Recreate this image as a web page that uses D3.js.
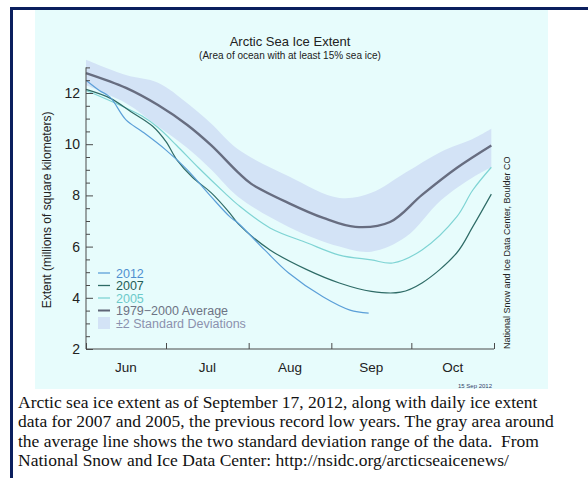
<!DOCTYPE html>
<html>
<meta charset="utf-8">
<head>
  <script src="https://cdn.jsdelivr.net/npm/d3@7"></script>
  <style>
    body { margin:0; background:#fff; }
  </style>
</head>
<body>
<script>
    // values (millions of km2), month-day in 2012
    var bandDates = ["06-01","06-16","06-28","07-09","07-18","07-28","08-16","09-04","09-16","09-29","10-12","10-24","10-31"]
    var bandUpper = [13.3, 12.7, 12.4, 11.6, 10.8, 9.8, 8.75, 7.9, 8.1, 8.9, 9.7, 10.2, 10.6]
    var bandLower = [12.3, 11.6, 10.7, 9.85, 9.0, 7.95, 6.77, 6.0, 5.8, 6.38, 7.8, 8.7, 9.1]

    var avg = [["06-01",12.78],["06-16",12.2],["06-28",11.53],["07-09",10.75],["07-18",9.95],["07-28",8.9],
               ["08-02",8.45],["08-16",7.7],["08-29",7.12],["09-10",6.77],["09-23",6.96],["10-05",8.02],
               ["10-18",9.07],["10-31",9.95]]
    var ice2005 = [["06-01",12.1],["06-10",11.7],["06-22",11.1],["06-28",10.65],["07-05",9.95],["07-13",9.1],
                   ["07-23",8.1],["07-28",7.63],["08-09",6.73],["08-23",6.14],["09-04",5.67],["09-16",5.48],
                   ["09-24",5.36],["10-05",5.87],["10-18",7.16],["10-24",8.2],["10-31",9.1]]
    var ice2007 = [["06-01",12.14],["06-10",11.8],["06-18",11.26],["06-26",10.7],["07-01",10.1],["07-05",9.4],
                   ["07-11",8.7],["07-18",8.1],["07-25",7.3],["07-28",6.9],["08-09",5.87],["08-23",5.09],
                   ["09-04",4.58],["09-16",4.25],["09-27",4.22],["10-05",4.58],["10-18",5.75],["10-24",6.77],
                   ["10-31",8.05]]
    var ice2012 = [["06-01",12.5],["06-06",12.1],["06-10",11.84],["06-16",10.95],["06-22",10.5],["07-01",9.77],
                   ["07-09",9.0],["07-18",7.94],["07-25",7.16],["07-28",6.92],["08-07",5.87],["08-16",4.97],
                   ["08-29",4.03],["09-08",3.52],["09-15",3.4]]

    var months = ["Jun","Jul","Aug","Sep","Oct"]
    var yMajor = [2,4,6,8,10,12]

    var legendItems = [
	{label:"2012", color:"#5b9fd8", text:"#4f8fd0"},
	{label:"2007", color:"#2e6b66", text:"#245c57"},
	{label:"2005", color:"#7fd4d4", text:"#6ccaca"},
	{label:"1979\u22122000 Average", color:"#5f6577", text:"#6d7384"},
	{label:"\u00b12 Standard Deviations", color:"#d3e3f6", text:"#8b91ae", box:true}
    ]

    var caption = [
	"Arctic sea ice extent as of September 17, 2012, along with daily ice extent",
	"data for 2007 and 2005, the previous record low years. The gray area around",
	"the average line shows the two standard deviation range of the data.  From",
	"National Snow and Ice Data Center: http://nsidc.org/arcticseaicenews/"
    ]

    var parse = d3.timeParse("%Y-%m-%d")
    function dt(md) { return parse("2012-"+md) }
    var sans = "Liberation Sans, Arial, sans-serif"

    var svg = d3.select("body").append("svg").attr("width",588).attr("height",478)

    // frame + cyan panel
    svg.append("rect").attr("x",35).attr("y",9).attr("width",513).attr("height",380).attr("fill","#e7fcfc")
    svg.append("rect").attr("x",10).attr("y",7).attr("width",578).attr("height",3).attr("fill","#0b1f5e")
    svg.append("rect").attr("x",10).attr("y",7).attr("width",3).attr("height",471).attr("fill","#0b1f5e")

    var x = d3.scaleTime().domain([dt("06-01"), dt("11-01")]).range([86,494])
    var y = d3.scaleLinear().domain([2,13]).range([349,67.4])

    // std dev band
    var band = bandDates.map((d,i)=>({date:dt(d), hi:bandUpper[i], lo:bandLower[i]}))
    svg.append("path")
	.datum(band)
	.attr("fill","#d3e3f6")
	.attr("d", d3.area().curve(d3.curveCatmullRom)
	      .x(d=>x(d.date)).y0(d=>y(d.lo)).y1(d=>y(d.hi)))

    var line = d3.line().curve(d3.curveCatmullRom).x(d=>x(dt(d[0]))).y(d=>y(d[1]))

    svg.append("path").datum(avg).attr("fill","none").attr("stroke","#676d80").attr("stroke-width",2.4).attr("d",line)
    svg.append("path").datum(ice2005).attr("fill","none").attr("stroke","#7fd4d4").attr("stroke-width",1.2).attr("d",line)
    svg.append("path").datum(ice2007).attr("fill","none").attr("stroke","#2e6b66").attr("stroke-width",1.2).attr("d",line)
    svg.append("path").datum(ice2012).attr("fill","none").attr("stroke","#5b9fd8").attr("stroke-width",1.2).attr("d",line)

    // axes
    var axisColor = "#4a4a4a"
    var yMinor = d3.range(2,13.01,0.5).filter(v=>yMajor.indexOf(v)<0)
    var gy = svg.append("g").attr("transform","translate(86,0)")
    gy.call(d3.axisLeft(y).tickValues(yMajor).tickSize(-7).tickPadding(6).tickFormat(d3.format("d")))
    gy.append("g").call(d3.axisLeft(y).tickValues(yMinor).tickSize(-4).tickFormat(""))
    gy.selectAll(".domain").remove()
    gy.append("line").attr("y1",y(13)).attr("y2",y(2)).attr("stroke",axisColor)

    var monthStarts = d3.timeMonth.range(dt("06-01"), dt("11-02"))
    var gx = svg.append("g").attr("transform","translate(0,349)")
    gx.call(d3.axisBottom(x).tickValues(monthStarts).tickSize(-6).tickFormat(""))
    gx.select(".domain").remove()
    gx.append("line").attr("x1",86).attr("x2",494).attr("stroke",axisColor)

    svg.selectAll(".tick line").attr("stroke",axisColor)
    svg.selectAll(".tick text").attr("fill","#222").attr("font-family",sans).attr("font-size",14)

    svg.append("g").selectAll("text")
	.data(months)
	.join("text")
	.attr("x",(d,i)=>(x(monthStarts[i])+x(monthStarts[i+1]))/2)
	.attr("y",372)
	.attr("text-anchor","middle")
	.attr("fill","#222")
	.style("font-family",sans)
	.style("font-size","13.5px")
	.text(d=>d)

    // titles
    svg.append("text").attr("x",290).attr("y",46).attr("text-anchor","middle").attr("fill","#222")
	.style("font-family",sans).style("font-size","13px").text("Arctic Sea Ice Extent")
    svg.append("text").attr("x",290).attr("y",58.5).attr("text-anchor","middle").attr("fill","#222")
	.style("font-family",sans).style("font-size","10px").text("(Area of ocean with at least 15% sea ice)")

    svg.append("text").attr("transform","translate(51,210) rotate(-90)").attr("text-anchor","middle")
	.attr("fill","#222").style("font-family",sans).style("font-size","12px")
	.text("Extent (millions of square kilometers)")

    svg.append("text").attr("transform","translate(510,349) rotate(-90)").attr("text-anchor","start")
	.attr("fill","#222").style("font-family",sans).style("font-size","9px")
	.text("National Snow and Ice Data Center, Boulder CO")

    svg.append("text").attr("x",492).attr("y",388).attr("text-anchor","end").attr("fill","#33406a")
	.style("font-family",sans).style("font-size","6px").text("15 Sep 2012")

    // legend
    var lg = svg.append("g").selectAll("g")
	.data(legendItems)
	.join("g")
	.attr("transform",(d,i)=>`translate(98,${273+i*12.5})`)
    lg.filter(d=>!d.box).append("line").attr("x1",0).attr("x2",12)
	.attr("stroke",d=>d.color).attr("stroke-width",(d,i)=>d.label.length>5?2:1.3)
    lg.filter(d=>d.box).append("rect").attr("x",0).attr("y",-6).attr("width",12).attr("height",12).attr("fill",d=>d.color)
    lg.append("text").attr("x",18).attr("y",4.5).attr("fill",d=>d.text)
	.style("font-family",sans).style("font-size","12.5px").text(d=>d.label)

    // caption
    svg.append("g").selectAll("text")
	.data(caption)
	.join("text")
	.attr("x",18)
	.attr("y",(d,i)=>408+i*19.4)
	.attr("fill","#111")
	.style("font-family","Liberation Serif, Times New Roman, serif")
	.style("font-size","17.5px")
	.style("white-space","pre")
	.text(d=>d)
</script>
</body>
</html>
